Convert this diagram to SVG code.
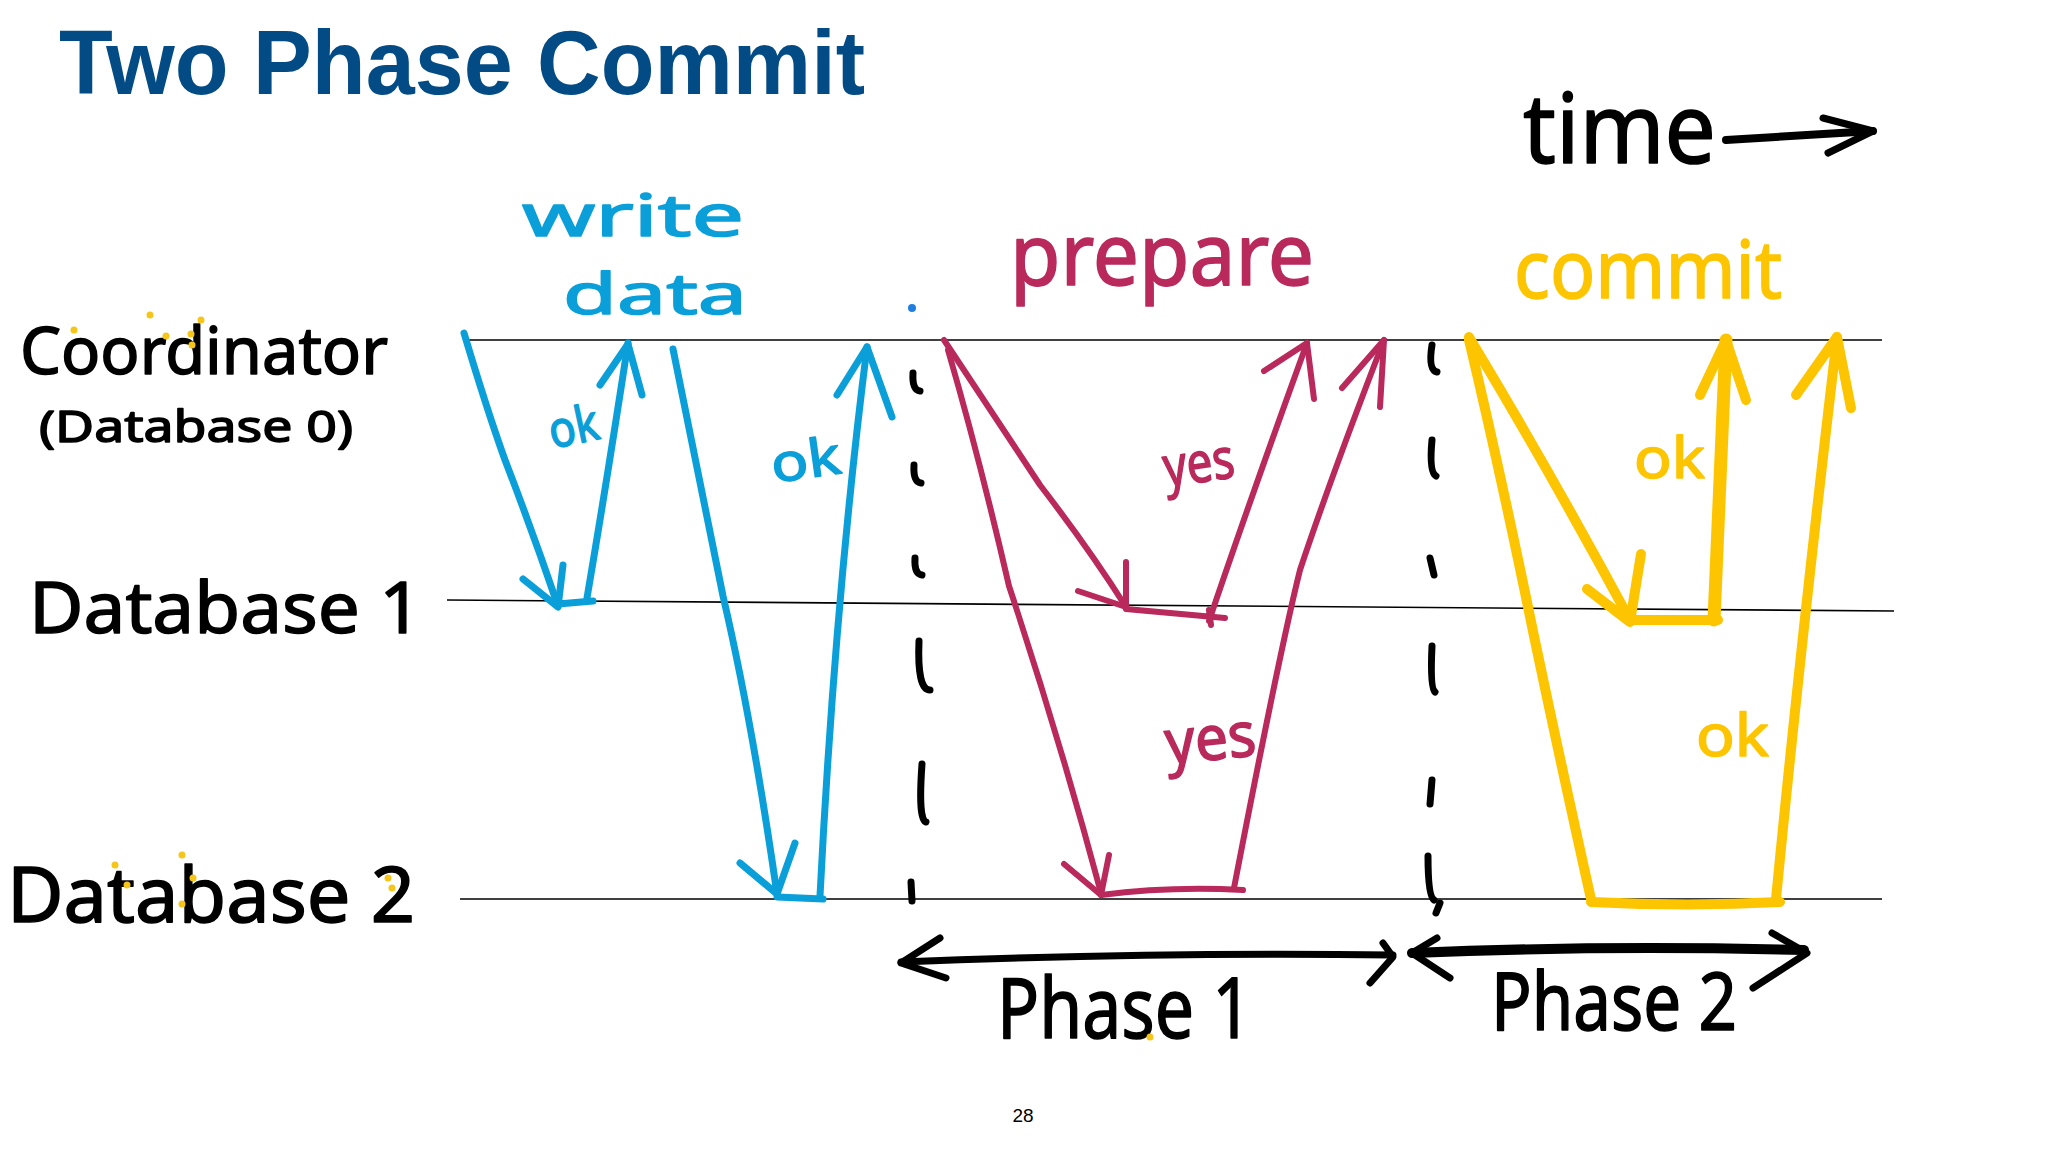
<svg xmlns="http://www.w3.org/2000/svg" width="2048" height="1152" viewBox="0 0 2048 1152">
<style>
.hw{font-family:"Noto Sans","DejaVu Sans",sans-serif;stroke-linejoin:round;paint-order:stroke}
.blk{fill:#000;stroke:#000;stroke-width:1.5}
.blu{fill:#0A9FD9;stroke:#0A9FD9;stroke-width:1.5}
.mag{fill:#B9295B;stroke:#B9295B;stroke-width:1.5}
.yel{fill:#FDC500;stroke:#FDC500;stroke-width:1.5}
.ln{stroke:#000;stroke-width:1.6;fill:none}
.s{fill:none;stroke-linecap:round;stroke-linejoin:round}
.sb{stroke:#0A9FD9;stroke-width:7}
.sm{stroke:#B9295B;stroke-width:6}
.sy{stroke:#FDC500;stroke-width:10}
.sk{stroke:#000;stroke-width:7}
.dot{fill:#F5C518}
</style>
<rect width="2048" height="1152" fill="#fff"/>
<text x="59" y="94" font-family="Liberation Sans, Arial, sans-serif" font-weight="bold" font-size="90" fill="#034B85" textLength="806" lengthAdjust="spacingAndGlyphs">Two Phase Commit</text>

<g id="node-coordinator">
<line class="ln" x1="464" y1="340" x2="1882" y2="340"/>
<text class="hw blk" x="20" y="374" font-size="66" textLength="368" lengthAdjust="spacingAndGlyphs">Coordinator</text>
<text class="hw blk" x="39" y="442" font-size="44" textLength="314" lengthAdjust="spacingAndGlyphs">(Database 0)</text>
<circle class="dot" cx="74" cy="330" r="3.5"/><circle class="dot" cx="150" cy="315" r="3.5"/><circle class="dot" cx="166" cy="336" r="3.5"/><circle class="dot" cx="201" cy="320" r="3.5"/><circle class="dot" cx="191" cy="334" r="3.5"/><circle class="dot" cx="192" cy="345" r="3.5"/>
</g>
<g id="node-db1">
<line class="ln" x1="447" y1="600" x2="1894" y2="611"/>
<text class="hw blk" x="29" y="633" font-size="72" textLength="393" lengthAdjust="spacingAndGlyphs">Database 1</text>
</g>
<g id="node-db2">
<line class="ln" x1="460" y1="899" x2="1882" y2="899"/>
<text class="hw blk" x="7" y="922" font-size="76" textLength="408" lengthAdjust="spacingAndGlyphs">Database 2</text>
<circle class="dot" cx="115" cy="865" r="3.5"/><circle class="dot" cx="182" cy="855" r="3.5"/><circle class="dot" cx="127" cy="885" r="3.5"/><circle class="dot" cx="193" cy="878" r="3.5"/><circle class="dot" cx="182" cy="904" r="3.5"/><circle class="dot" cx="388" cy="878" r="3.5"/><circle class="dot" cx="392" cy="888" r="3.5"/>
</g>

<g id="labels">
<text class="hw blu" x="522" y="236" font-size="58" textLength="222" lengthAdjust="spacingAndGlyphs">write</text>
<text class="hw blu" x="563" y="314" font-size="56" textLength="184" lengthAdjust="spacingAndGlyphs">data</text>
<text class="hw blu" x="547" y="444" font-size="50" textLength="50" lengthAdjust="spacingAndGlyphs" transform="rotate(-12 572 420)">ok</text>
<text class="hw blu" x="770" y="478" font-size="52" textLength="70" lengthAdjust="spacingAndGlyphs" transform="rotate(-8 805 455)">ok</text>
<text class="hw mag" x="1010" y="285" font-size="86" textLength="304" lengthAdjust="spacingAndGlyphs">prepare</text>
<text class="hw mag" x="1164" y="482" font-size="56" textLength="71" lengthAdjust="spacingAndGlyphs" transform="rotate(-8 1200 470)">yes</text>
<text class="hw mag" x="1166" y="760" font-size="62" textLength="91" lengthAdjust="spacingAndGlyphs" transform="rotate(-6 1210 750)">yes</text>
<text class="hw yel" x="1514" y="298" font-size="80" textLength="268" lengthAdjust="spacingAndGlyphs">commit</text>
<text class="hw yel" x="1634" y="478" font-size="56" textLength="71" lengthAdjust="spacingAndGlyphs">ok</text>
<text class="hw yel" x="1696" y="756" font-size="58" textLength="73" lengthAdjust="spacingAndGlyphs">ok</text>
<text class="hw blk" x="1523" y="163" font-size="96" textLength="193" lengthAdjust="spacingAndGlyphs">time</text>
<text class="hw blk" x="997" y="1038" font-size="84" textLength="255" lengthAdjust="spacingAndGlyphs">Phase 1</text>
<text class="hw blk" x="1491" y="1030" font-size="80" textLength="246" lengthAdjust="spacingAndGlyphs">Phase 2</text>
<circle class="dot" cx="1150" cy="1037" r="3.5"/>
<circle cx="912" cy="308" r="4" fill="#1E7FE0"/>
<text x="1023" y="1122" font-family="Liberation Sans, Arial, sans-serif" font-size="19" text-anchor="middle" fill="#000">28</text>
</g>

<g id="dividers" class="s sk">
<path d="M913,373 Q912,390 920,391"/>
<path d="M914,465 Q913,482 921,483"/>
<path d="M915,558 Q914,574 922,575"/>
<path d="M919,641 Q917,690 930,690"/>
<path d="M922,764 Q918,820 926,822"/>
<path d="M911,882 L912,901"/>
<path d="M1432,345 Q1428,370 1437,372"/>
<path d="M1432,440 Q1429,472 1436,476"/>
<path d="M1430,558 L1434,575"/>
<path d="M1432,646 Q1430,688 1435,692"/>
<path d="M1432,780 L1430,804"/>
<path d="M1428,856 Q1428,896 1434,900 M1440,903 L1436,913"/>
</g>

<g id="connectors" class="s">
<g class="sb">
<path d="M464,333 Q487,410 505,460 Q532,530 558,606"/>
<path d="M523,579 L558,607 L563,565"/>
<path d="M558,604 L593,601"/>
<path d="M587,598 Q607,480 628,343"/>
<path d="M600,385 L628,344 L642,395"/>
<path d="M673,349 Q700,480 723,596 Q752,720 777,894"/>
<path d="M740,863 L777,894 L795,843"/>
<path d="M777,897 L823,899"/>
<path d="M820,896 Q835,600 867,347"/>
<path d="M837,395 L867,347 L892,417"/>
</g>
<g class="sm">
<path d="M944,340 Q990,410 1040,485 Q1090,550 1126,607"/>
<path d="M1078,591 L1126,607 L1126,562"/>
<path d="M1126,609 L1225,618 M1209,610 L1211,625"/>
<path d="M1209,621 Q1250,500 1307,343"/>
<path d="M1264,371 L1307,343 L1314,399"/>
<path d="M948,350 Q980,460 1009,586 Q1060,740 1101,893"/>
<path d="M1064,864 L1101,895 L1109,855"/>
<path d="M1101,895 Q1170,886 1243,890"/>
<path d="M1234,888 Q1280,650 1300,570 Q1330,480 1384,340"/>
<path d="M1342,388 L1384,340 L1380,407"/>
</g>
<g class="sy">
<path d="M1469,337 Q1548,468 1630,620"/>
<path d="M1587,589 L1630,622 L1641,554"/>
<path d="M1630,620 L1718,620"/>
<path d="M1714,620 L1726,340" stroke-width="13"/>
<path d="M1700,395 L1726,340 L1746,400"/>
<path d="M1469,340 Q1500,470 1534,636 Q1560,760 1591,899"/>
<path d="M1591,902 Q1690,907 1780,902"/>
<path d="M1776,899 Q1800,650 1837,337"/>
<path d="M1796,395 L1837,337 L1851,408"/>
</g>
<g class="sk">
<path d="M1726,140 L1873,131" stroke-width="8"/>
<path d="M1823,118 L1873,131 L1828,153"/>
<path d="M901,962 Q1150,952 1393,955"/>
<path d="M940,938 L901,963 L946,978"/>
<path d="M1383,943 L1393,957 L1370,983"/>
<path d="M1412,953 Q1600,945 1804,950" stroke-width="10"/>
<path d="M1437,938 L1412,953 L1450,978"/>
<path d="M1772,933 L1807,953 L1753,988"/>
</g>
</g>
</svg>
